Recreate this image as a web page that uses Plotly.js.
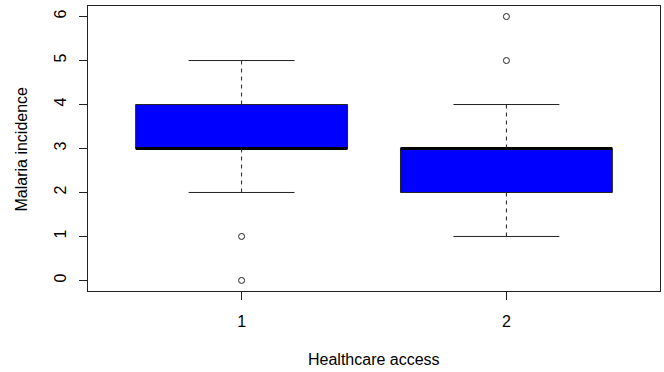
<!DOCTYPE html>
<html>
<head>
<meta charset="utf-8">
<script src="https://cdn.plot.ly/plotly-3.0.1.min.js"></script>
<style>html,body{margin:0;padding:0;background:#fff;}#chart{width:664px;height:372px;}</style>
</head>
<body>
<div id="chart"></div>
<script>
// Data
const categories = [1, 2];
const tickLabels = ["1", "2"];
const q1 = [3, 2];
const medians = [3, 3];
const q3 = [4, 3];
const lowerWhisker = [2, 1];
const upperWhisker = [5, 4];
const outlierGroup = [1, 1, 2, 2];
const outlierValues = [1, 0, 5, 6];

const boxWidth = 0.8;
const stapleHalf = boxWidth / 4;
const ink = "#222";

// Boxes as floating bars
const boxes = {
  type: "bar",
  x: categories,
  base: q1,
  y: q3.map((v, i) => v - q1[i]),
  width: boxWidth,
  marker: {color: "#0000ff", line: {color: ink, width: 1}},
  hoverinfo: "skip"
};

// Median lines
const medX = [], medY = [];
categories.forEach((c, i) => {
  medX.push(c - boxWidth / 2, c + boxWidth / 2, null);
  medY.push(medians[i], medians[i], null);
});
const medianTrace = {type: "scatter", mode: "lines", x: medX, y: medY,
  line: {color: "#000", width: 3}, hoverinfo: "skip"};

// Whiskers (dashed)
const wX = [], wY = [];
categories.forEach((c, i) => {
  wX.push(c, c, null, c, c, null);
  wY.push(q3[i], upperWhisker[i], null, q1[i], lowerWhisker[i], null);
});
const whiskerTrace = {type: "scatter", mode: "lines", x: wX, y: wY,
  line: {color: ink, width: 1, dash: "4px,4px"}, hoverinfo: "skip"};

// Staples (solid)
const sX = [], sY = [];
categories.forEach((c, i) => {
  sX.push(c - stapleHalf, c + stapleHalf, null, c - stapleHalf, c + stapleHalf, null);
  sY.push(upperWhisker[i], upperWhisker[i], null, lowerWhisker[i], lowerWhisker[i], null);
});
const stapleTrace = {type: "scatter", mode: "lines", x: sX, y: sY,
  line: {color: ink, width: 1}, hoverinfo: "skip"};

// Outliers
const outlierTrace = {type: "scatter", mode: "markers", x: outlierGroup, y: outlierValues,
  marker: {symbol: "circle-open", size: 6, color: ink, line: {width: 1, color: ink}},
  hoverinfo: "skip"};

const font = {family: "Liberation Sans, Arial, sans-serif", size: 16, color: "#000"};

const layout = {
  width: 664, height: 372,
  margin: {l: 88, r: 4, t: 6, b: 81, pad: 0},
  paper_bgcolor: "#fff", plot_bgcolor: "#fff",
  showlegend: false,
  font: font,
  xaxis: {
    range: [0.42, 2.58], tickvals: categories, ticktext: tickLabels,
    showgrid: false, zeroline: false,
    showline: true, mirror: true, linecolor: ink, linewidth: 1,
    ticks: "outside", ticklen: 8, tickcolor: ink, tickwidth: 1,
    ticklabelstandoff: 8,
    tickfont: font, fixedrange: true
  },
  yaxis: {
    range: [-0.24, 6.24], tickvals: [0, 1, 2, 3, 4, 5, 6],
    showgrid: false, zeroline: false,
    showline: true, mirror: true, linecolor: ink, linewidth: 1,
    ticks: "outside", ticklen: 8, tickcolor: ink, tickwidth: 1,
    tickangle: -90, ticklabelstandoff: 7,
    tickfont: font, fixedrange: true
  },
  annotations: [
    {text: "Healthcare access", xref: "paper", yref: "paper", x: 0.5, y: -0.2386,
     xanchor: "center", yanchor: "middle", showarrow: false, font: font},
    {text: "Malaria incidence", xref: "paper", yref: "paper", x: -0.1154, y: 0.5,
     xanchor: "center", yanchor: "middle", textangle: -90, showarrow: false, font: font}
  ]
};

Plotly.newPlot("chart", [boxes, medianTrace, whiskerTrace, stapleTrace, outlierTrace], layout,
  {staticPlot: true, displayModeBar: false});
</script>
</body>
</html>
